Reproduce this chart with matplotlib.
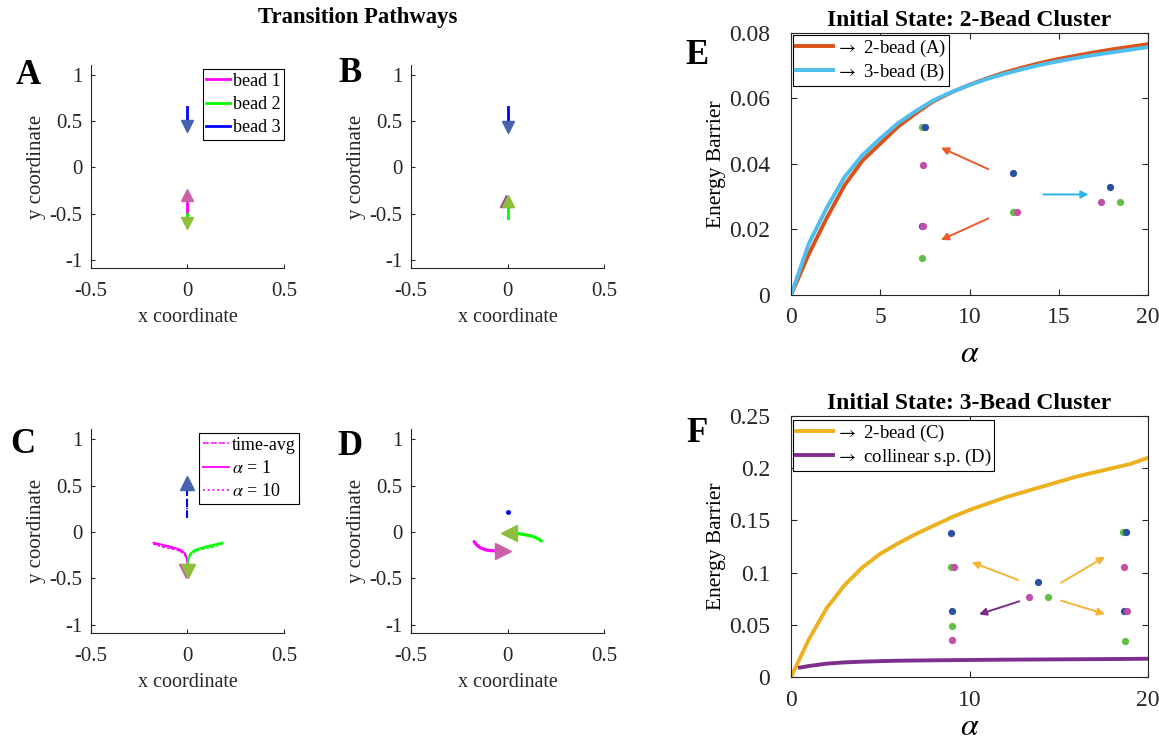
import matplotlib
matplotlib.use("Agg")
import matplotlib.pyplot as plt
from matplotlib.ticker import FuncFormatter

plt.rcParams['font.family'] = ['Liberation Serif', 'DejaVu Serif']
plt.rcParams['mathtext.fontset'] = 'stix'
plt.rcParams['axes.unicode_minus'] = False

# ---------------- data ----------------
MAG, GRN, BLU = '#FF00FF', '#00FF00', '#0000FF'
MAG_H, GRN_H, BLU_H = '#C862A6', '#8DBF3C', '#4563B0'

# Panel A
a_b3_y = [0.66, 0.50];   a_b3_head = 0.445
a_b1_y = [-0.50, -0.36]; a_b1_head = -0.295
a_b2_y = [-0.50, -0.54]; a_b2_head = -0.605
# Panel B
b_b3_y = [0.66, 0.505];  b_b3_head = 0.44
b_b2_y = [-0.55, -0.44]; b_b2_head = -0.365
b_b1_head = (-0.008, -0.365)
# Panel C
c_b1_x = [-0.176, -0.15, -0.125, -0.10, -0.075, -0.05, -0.03, -0.012, -0.004, 0.0]
c_b1_y = [-0.115, -0.128, -0.140, -0.152, -0.166, -0.182, -0.200, -0.235, -0.280, -0.340]
c_b1_y_avg = [-0.125, -0.140, -0.155, -0.168, -0.180, -0.196, -0.215, -0.250, -0.290, -0.340]
c_b1_y_a10 = [-0.130, -0.150, -0.165, -0.176, -0.186, -0.200, -0.220, -0.255, -0.295, -0.340]
c_b2_x = [0.181, 0.155, 0.13, 0.105, 0.08, 0.055, 0.033, 0.014, 0.005, 0.0]
c_b3_y = [0.155, 0.46]; c_b3_head = 0.525
c_head12 = -0.425
# Panel D
d_b1_x = [-0.173, -0.16, -0.143, -0.125, -0.105, -0.08, -0.05]
d_b1_y = [-0.105, -0.140, -0.168, -0.185, -0.197, -0.203, -0.205]
d_b1_head = (-0.022, -0.205)
d_b2_x = [0.175, 0.16, 0.14, 0.115, 0.09, 0.06, 0.035]
d_b2_y = [-0.097, -0.075, -0.055, -0.040, -0.030, -0.020, -0.012]
d_b2_head = (0.008, -0.008)
d_b3 = (0.003, 0.22)

# Panel E: energy barriers, initial 2-bead cluster
alpha = list(range(0, 21))
e_2bead = [0, 0.0125, 0.0235, 0.0335, 0.041, 0.0462, 0.0514, 0.0555, 0.0592, 0.0619, 0.0642,
           0.0662, 0.0680, 0.0695, 0.0709, 0.0721, 0.0731, 0.0741, 0.0750, 0.0758, 0.0766]
e_3bead = [0, 0.0157, 0.0266, 0.0360, 0.0427, 0.0478, 0.0525, 0.0562, 0.0595, 0.0620, 0.0641,
           0.0660, 0.0676, 0.0690, 0.0703, 0.0714, 0.0724, 0.0733, 0.0741, 0.0749, 0.0757]
# Panel F: energy barriers, initial 3-bead cluster
f_2bead = [0, 0.036, 0.066, 0.088, 0.105, 0.118, 0.128, 0.137, 0.145, 0.153, 0.160,
           0.166, 0.172, 0.177, 0.182, 0.187, 0.192, 0.196, 0.200, 0.204, 0.210]
f_alpha_col = [0.5, 1, 2, 3, 4, 5, 6, 8, 10, 12, 14, 16, 18, 20]
f_collinear = [0.009, 0.0105, 0.0128, 0.014, 0.0147, 0.0152, 0.0156, 0.016, 0.0163,
               0.0166, 0.0168, 0.017, 0.0172, 0.0175]

# inset configurations (schematic bead positions)
E_dots_x = {'b': [7.48, 7.33, 12.46, 17.87], 'm': [7.38, 7.42, 12.65, 17.37], 'g': [7.33, 7.33, 12.46, 18.43]}
E_dots_y = {'b': [0.0512, 0.0212, 0.0374, 0.0329], 'm': [0.0397, 0.0212, 0.0254, 0.0283], 'g': [0.0512, 0.0114, 0.0254, 0.0283]}
E_arrows = [((11.06, 0.0384), (8.4, 0.0450), '#EE5A2A'),
            ((11.06, 0.0234), (8.4, 0.0168), '#EE5A2A'),
            ((14.14, 0.0307), (16.67, 0.0307), '#2DB4E6')]
F_dots_x = {'b': [8.96, 9.0, 13.86, 18.75, 18.68], 'm': [9.13, 9.0, 13.33, 18.66, 18.85], 'g': [8.96, 9.0, 14.42, 18.58, 18.72]}
F_dots_y = {'b': [0.138, 0.0629, 0.0907, 0.1386, 0.0632], 'm': [0.1057, 0.0354, 0.0769, 0.1057, 0.0632], 'g': [0.1057, 0.0489, 0.0769, 0.1386, 0.0348]}
F_arrows = [((12.73, 0.0929), (10.12, 0.110), '#F5B536'),
            ((15.13, 0.0903), (17.59, 0.1152), '#F5B536'),
            ((15.13, 0.0731), (17.59, 0.0603), '#F5B536'),
            ((12.79, 0.0725), (10.53, 0.0600), '#7B2D8E')]
DOT = {'b': '#2B4FA5', 'm': '#C24FA6', 'g': '#63BE45'}

# ---------------- figure ----------------
W, H = 1159, 746
fig = plt.figure(figsize=(W / 100, H / 100), dpi=100)

def box(l, t, r, b):
    return [l / W, 1 - b / H, (r - l) / W, (b - t) / H]

fmt = FuncFormatter(lambda v, p: ('%g' % round(v, 6)))
TXT = '#262626'

def traj_axes(rect, letter, lx, ly):
    ax = fig.add_axes(rect)
    ax.set_xlim(-0.5, 0.5)
    ax.set_ylim(-1.09, 1.11)
    ax.set_xticks([-0.5, 0, 0.5])
    ax.set_yticks([-1, -0.5, 0, 0.5, 1])
    ax.xaxis.set_major_formatter(fmt)
    ax.yaxis.set_major_formatter(fmt)
    for s in ['top', 'right']:
        ax.spines[s].set_visible(False)
    for s in ['left', 'bottom']:
        ax.spines[s].set_color(TXT)
        ax.spines[s].set_linewidth(0.8)
    ax.tick_params(direction='in', length=3, labelsize=15, colors=TXT)
    ax.tick_params(axis='x', pad=10)
    ax.tick_params(axis='y', pad=6)
    ax.set_xlabel('x coordinate', fontsize=14.5, color=TXT, labelpad=5)
    ax.set_ylabel('y coordinate', fontsize=15, color=TXT, labelpad=3)
    fig.text(lx / W, 1 - ly / H, letter, fontsize=25, fontweight='bold', ha='center', va='center')
    return ax

def mk_legend(ax, anchor, loc, fs, hl, ls, bp=0.2):
    lg = ax.legend(loc=loc, bbox_to_anchor=anchor, fontsize=fs, frameon=True,
                   fancybox=False, edgecolor='black', handlelength=hl, handletextpad=0.15,
                   labelspacing=ls, borderpad=bp, borderaxespad=0, framealpha=1)
    lg.get_frame().set_linewidth(0.8)
    return lg

# Panel A
axA = traj_axes(box(91, 65, 284, 268), 'A', 28, 75)
axA.plot([0, 0], a_b1_y, color=MAG, lw=2, label='bead 1')
axA.plot([0, 0], a_b2_y, color=GRN, lw=2, label='bead 2')
axA.plot([0, 0], a_b3_y, color=BLU, lw=2, label='bead 3')
axA.plot([0], [a_b3_head], marker='v', ms=9, color=BLU_H, ls='none')
axA.plot([0], [a_b1_head], marker='^', ms=9, color=MAG_H, ls='none')
axA.plot([0], [a_b2_head], marker='v', ms=9, color=GRN_H, ls='none')
mk_legend(axA, (1.0, 0.98), 'upper right', 13, 1.3, 0.35)

# Panel B
axB = traj_axes(box(411, 65, 604, 268), 'B', 350, 73)
axB.plot([0, 0], b_b3_y, color=BLU, lw=2)
axB.plot([0, 0], b_b2_y, color=GRN, lw=2)
axB.plot([0], [b_b3_head], marker='v', ms=9, color=BLU_H, ls='none')
axB.plot([b_b1_head[0]], [b_b1_head[1]], marker='^', ms=9, color='#A040A0', ls='none')
axB.plot([0], [b_b2_head], marker='^', ms=9, color=GRN_H, ls='none')

# Panel C
axC = traj_axes(box(91, 429, 284, 633), 'C', 23, 445)
axC.plot(c_b1_x, c_b1_y_avg, color=MAG, lw=1.1, ls='--', label='time-avg')
axC.plot(c_b1_x, c_b1_y, color=MAG, lw=1.3, ls='-', label=r'$\alpha$ = 1')
axC.plot(c_b1_x, c_b1_y_a10, color=MAG, lw=1.3, ls=':', label=r'$\alpha$ = 10')
axC.plot(c_b2_x, c_b1_y_avg, color=GRN, lw=1.1, ls='--')
axC.plot(c_b2_x, c_b1_y, color=GRN, lw=1.3, ls='-')
axC.plot(c_b2_x, c_b1_y_a10, color=GRN, lw=1.3, ls=':')
axC.plot([0, 0], c_b3_y, color=BLU, lw=1.5, ls='--')
axC.plot([0, 0], c_b3_y, color=BLU, lw=1.2, ls=':')
axC.plot([0], [c_b3_head], marker='^', ms=10, color=BLU_H, ls='none')
axC.plot([-0.006], [c_head12], marker='v', ms=10, color=MAG_H, ls='none')
axC.plot([0.002], [c_head12], marker='v', ms=10, color=GRN_H, ls='none')
mk_legend(axC, ((299 - 91) / 193, 0.98), 'upper right', 13, 1.45, 0.35)

# Panel D
axD = traj_axes(box(411, 429, 604, 633), 'D', 350, 447)
axD.plot(d_b1_x, d_b1_y, color=MAG, lw=2.3, solid_capstyle='round')
axD.plot(d_b2_x, d_b2_y, color=GRN, lw=2.3, solid_capstyle='round')
axD.plot([d_b1_head[0]], [d_b1_head[1]], marker='>', ms=11, color=MAG_H, ls='none')
axD.plot([d_b2_head[0]], [d_b2_head[1]], marker='<', ms=11, color=GRN_H, ls='none')
axD.plot([d_b3[0]], [d_b3[1]], marker='o', ms=2.5, color=BLU, ls='none')

fig.text(358 / W, 1 - 18 / H, 'Transition Pathways', fontsize=16.3, fontweight='bold',
         ha='center', va='center')

# Energy panels
def energy_axes(rect, letter, ly, title, xlpad):
    ax = fig.add_axes(rect)
    ax.set_xlim(0, 20)
    ax.tick_params(direction='in', length=4, labelsize=17, colors=TXT,
                   top=True, right=True)
    ax.tick_params(axis='x', pad=9)
    ax.tick_params(axis='y', pad=15)
    for s in ax.spines.values():
        s.set_color(TXT)
        s.set_linewidth(0.8)
    ax.set_xlabel(r'$\alpha$', fontsize=23, labelpad=xlpad)
    ax.set_ylabel('Energy Barrier', fontsize=15.5, labelpad=2)
    ax.set_title(title, fontsize=17, fontweight='bold', pad=5)
    ax.xaxis.set_major_formatter(fmt)
    ax.yaxis.set_major_formatter(fmt)
    fig.text(697 / W, 1 - ly / H, letter, fontsize=25, fontweight='bold', ha='center', va='center')
    return ax

def draw_inset(ax, dx, dy, arrows):
    for (s, e, c) in arrows:
        ax.annotate('', xy=e, xytext=s,
                    arrowprops=dict(arrowstyle='-|>', color=c, lw=1.4, mutation_scale=11,
                                    shrinkA=0, shrinkB=0))
    for k in ['g', 'b', 'm']:
        ax.plot(dx[k], dy[k], marker='o', ms=4.2, color=DOT[k], ls='none')

axE = energy_axes(box(791, 33, 1148, 295), 'E', 55, 'Initial State: 2-Bead Cluster', 8)
axE.set_ylim(0, 0.08)
axE.set_xticks([0, 5, 10, 15, 20])
axE.set_yticks([0, 0.02, 0.04, 0.06, 0.08])
draw_inset(axE, E_dots_x, E_dots_y, E_arrows)
axE.plot(alpha, e_2bead, color='#D95319', lw=2.8, label=r'$\rightarrow$ 2-bead (A)')
axE.plot(alpha, e_3bead, color='#4DBEEE', lw=2.8, label=r'$\rightarrow$ 3-bead (B)')
mk_legend(axE, (0.005, 0.993), 'upper left', 13.5, 2.0, 0.15, 0.15)

axF = energy_axes(box(791, 416, 1148, 677), 'F', 433, 'Initial State: 3-Bead Cluster', 2)
axF.set_ylim(0, 0.25)
axF.set_xticks([0, 10, 20])
axF.set_yticks([0, 0.05, 0.1, 0.15, 0.2, 0.25])
draw_inset(axF, F_dots_x, F_dots_y, F_arrows)
axF.plot(alpha, f_2bead, color='#EDB120', lw=2.8, label=r'$\rightarrow$ 2-bead (C)')
axF.plot(f_alpha_col, f_collinear, color='#7E2F8E', lw=2.8, label=r'$\rightarrow$ collinear s.p. (D)')
mk_legend(axF, (0.005, 0.985), 'upper left', 13.5, 2.0, 0.15, 0.15)

fig.savefig('out.png', dpi=100)
